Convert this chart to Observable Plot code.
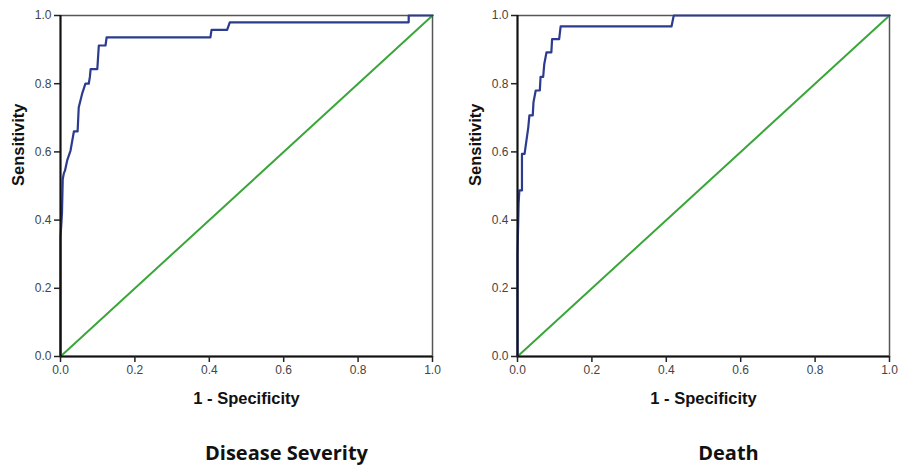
<!DOCTYPE html>
<html>
<head>
<meta charset="utf-8">
<script src="https://cdn.jsdelivr.net/npm/d3@7"></script>
<script src="https://cdn.jsdelivr.net/npm/@observablehq/plot@0.6"></script>
<style>
  html, body { margin: 0; padding: 0; background: #fff; }
  #wrap { position: relative; width: 902px; height: 466px; overflow: hidden; }
  #wrap > div { position: absolute; top: 0; }
</style>
</head>
<body>
<div id="wrap"><div id="left"></div><div id="right"></div></div>
<script>
// Panel titles and axis labels
const panelTitles = ["Disease Severity", "Death"];
const xLabel = "1 - Specificity";
const yLabel = "Sensitivity";
const tickValues = [0, 0.2, 0.4, 0.6, 0.8, 1.0];

// ROC curve: Disease Severity (1 - specificity, sensitivity)
const severityFPR  = [0, 0, 0.004, 0.006, 0.009, 0.012, 0.018, 0.027, 0.036, 0.046, 0.049, 0.058, 0.067, 0.076, 0.079, 0.081, 0.099, 0.103, 0.121, 0.124, 0.403, 0.406, 0.448, 0.455, 0.936, 0.936, 1.0];
const severitySens = [0, 0.35, 0.42, 0.52, 0.537, 0.545, 0.575, 0.604, 0.66, 0.66, 0.73, 0.77, 0.80, 0.80, 0.82, 0.843, 0.843, 0.912, 0.912, 0.936, 0.936, 0.958, 0.958, 0.98, 0.98, 1.0, 1.0];

// ROC curve: Death
const deathFPR  = [0, 0, 0.003, 0.005, 0.012, 0.012, 0.019, 0.024, 0.029, 0.032, 0.041, 0.043, 0.049, 0.060, 0.062, 0.069, 0.072, 0.078, 0.091, 0.093, 0.112, 0.116, 0.414, 0.42, 1.0];
const deathSens = [0, 0.30, 0.45, 0.487, 0.487, 0.594, 0.594, 0.633, 0.672, 0.707, 0.707, 0.746, 0.78, 0.78, 0.82, 0.82, 0.858, 0.892, 0.892, 0.931, 0.931, 0.968, 0.968, 1.0, 1.0];

// Reference (chance) diagonal
const refX = [0, 1];
const refY = [0, 1];

const blue = "#2c3b8e";
const green = "#3aa63a";

function rocPanel(fpr, sens, title, opts) {
  const curve = fpr.map((x, i) => ({x, y: sens[i]}));
  const diag = refX.map((x, i) => ({x, y: refY[i]}));
  return Plot.plot({
    width: opts.width,
    height: 466,
    marginLeft: opts.marginLeft,
    marginRight: opts.marginRight,
    marginTop: 15,
    marginBottom: 110,
    x: {domain: [0, 1]},
    y: {domain: [0, 1]},
    style: {fontFamily: "'Liberation Sans', Arial, sans-serif", background: "#fff"},
    marks: [
      Plot.frame({stroke: "#555", strokeWidth: 1.5}),
      Plot.line(diag, {x: "x", y: "y", stroke: green, strokeWidth: 2}),
      Plot.line(curve, {x: "x", y: "y", stroke: blue, strokeWidth: 2.2}),
      Plot.ruleX([0], {stroke: "#111", strokeWidth: 2}),
      Plot.ruleY([0], {stroke: "#111", strokeWidth: 2}),
      Plot.axisX({ticks: tickValues, tickFormat: d => d.toFixed(1), tickSize: 6, tickPadding: 3,
        fontSize: 12, stroke: "#222", strokeWidth: 1.5, fill: "#444", label: null}),
      Plot.axisY({ticks: tickValues, tickFormat: d => d.toFixed(1), tickSize: 6, tickPadding: 3,
        fontSize: 12, stroke: "#222", strokeWidth: 1.5, fill: "#444", label: null}),
      Plot.text([xLabel], {frameAnchor: "bottom", dy: 42, text: d => d, fontSize: 16.5,
        fontWeight: "bold", fill: "#111", lineAnchor: "middle"}),
      Plot.text([yLabel], {frameAnchor: "left", dx: opts.yLabelDx, text: d => d, rotate: -90,
        fontSize: 16.5, fontWeight: "bold", fill: "#111", lineAnchor: "middle"}),
      Plot.text([title], {frameAnchor: "bottom", dy: 97, dx: opts.titleDx, text: d => d,
        fontSize: 20, fontWeight: "bold", fill: "#111", lineAnchor: "middle",
        fontFamily: "'Open Sans', Lato, sans-serif"})
    ]
  });
}

const left = rocPanel(severityFPR, severitySens, panelTitles[0],
  {width: 451, marginLeft: 60, marginRight: 19, yLabelDx: -42, titleDx: 40});
document.getElementById("left").append(left);
document.getElementById("left").style.left = "0px";

const right = rocPanel(deathFPR, deathSens, panelTitles[1],
  {width: 446, marginLeft: 61, marginRight: 13, yLabelDx: -42, titleDx: 25});
document.getElementById("right").append(right);
document.getElementById("right").style.left = "456px";
</script>
</body>
</html>
